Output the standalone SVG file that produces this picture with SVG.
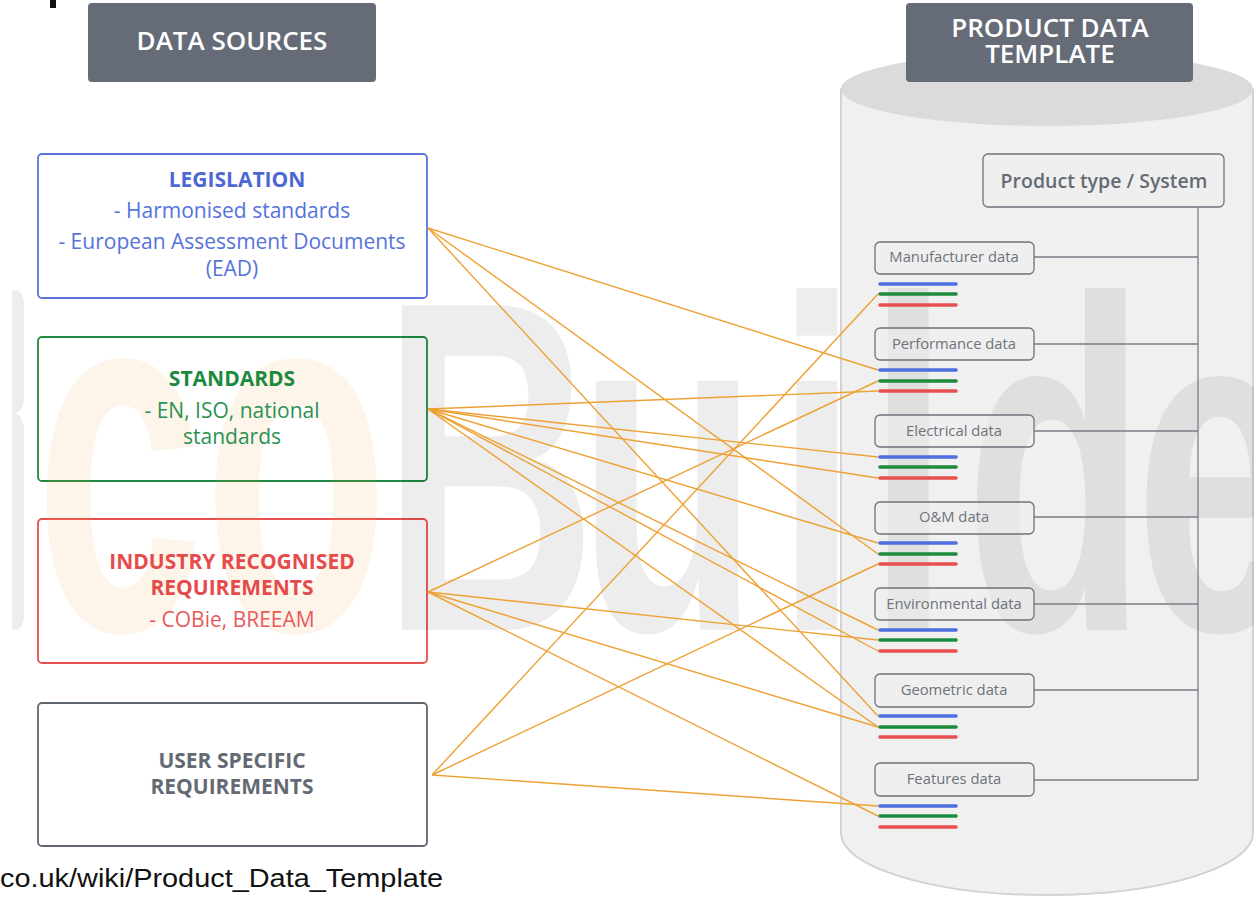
<svg xmlns="http://www.w3.org/2000/svg" width="1254" height="897" viewBox="0 0 1254 897">
<style>
.hdr{fill:#656c78}
.hdrt{font-family:"Open Sans","Noto Sans",sans-serif;font-weight:600;font-size:26px;fill:#ffffff;text-anchor:middle}
.src{fill:#ffffff;stroke-width:1.8}
.t{font-family:"Open Sans","Noto Sans",sans-serif;text-anchor:middle}
.b{font-weight:700;font-size:21px}
.r{font-size:21px}
.dbox{fill:#eeeeee;fill-opacity:0.55;stroke:#6e737b;stroke-width:1.3}
.dt{font-family:"Open Sans","Noto Sans",sans-serif;font-size:14.8px;fill:#6e737b;text-anchor:middle}
.bus{fill:none;stroke:#7a7f86;stroke-width:1.3}
.bar{stroke-width:3.6;stroke-linecap:round}
.bl{stroke:#4d6fe0}.gr{stroke:#1d8a3c}.rd{stroke:#e8504f}
.wm{fill:#000000;fill-opacity:0.07}
.wmo{fill:#f5a040;fill-opacity:0.11}
#connectors line{stroke:#eea133;stroke-width:1.4}
</style>
<rect x="0" y="0" width="1254" height="897" fill="#ffffff"/>
<rect x="50" y="0" width="6" height="8" fill="#111111"/>

<g id="cylinder">
<path d="M841,89 L841,833 A206,62 0 0 0 1253,833 L1253,89 Z" fill="#f0f0f0" stroke="#d2d2d2" stroke-width="2"/>
<ellipse cx="1047" cy="89" rx="206" ry="37" fill="#dbdbdb"/>
</g>

<g id="header-data-sources">
<rect class="hdr" x="88" y="3" width="288" height="79" rx="4"/>
<text class="hdrt" x="232" y="50">DATA SOURCES</text>
</g>
<g id="header-pdt">
<rect class="hdr" x="906" y="3" width="287" height="79" rx="4"/>
<text class="hdrt" x="1050" y="37">PRODUCT DATA</text>
<text class="hdrt" x="1050" y="63">TEMPLATE</text>
</g>

<g id="legislation-box"><rect class="src" x="38" y="154" width="389" height="144" rx="4" stroke="#5a74da"/></g>
<g id="standards-box"><rect class="src" x="38" y="337" width="389" height="144" rx="4" stroke="#1f8a40"/></g>
<g id="industry-box"><rect class="src" x="38" y="519" width="389" height="144" rx="4" stroke="#e8504f"/></g>
<g id="user-box"><rect class="src" x="38" y="703" width="389" height="143" rx="4" stroke="#60666f"/></g>

<g id="watermark">
<path class="wm" d="M12,290 H14 Q24,290 24,306 V398 Q24,410 16,413 Q24,417 24,430 V614 Q24,630 14,630 H12 Z"/>
<text class="wmo" transform="translate(35,630) scale(0.6,1)" font-family="Liberation Sans, sans-serif" font-weight="700" font-size="505">co</text>
<text class="wm" transform="translate(382,630) scale(0.63,1)" font-family="Liberation Sans, sans-serif" font-weight="700" font-size="472"><tspan x="0">B</tspan><tspan x="310">u</tspan><tspan x="625">i</tspan><tspan x="770">l</tspan><tspan x="925">d</tspan><tspan x="1195">e</tspan></text>
</g>

<g id="legislation-text" class="t" fill="#4d68d2">
<text class="b" x="237" y="187">LEGISLATION</text>
<text class="r" x="232" y="218" fill="#5673da">- Harmonised standards</text>
<text class="r" x="232" y="249" fill="#5673da">- European Assessment Documents</text>
<text class="r" x="232" y="276" fill="#5673da">(EAD)</text>
</g>
<g id="standards-text" class="t" fill="#1c8a3f">
<text class="b" x="232" y="386">STANDARDS</text>
<text class="r" x="232" y="418" fill="#2a9250">- EN, ISO, national</text>
<text class="r" x="232" y="444" fill="#2a9250">standards</text>
</g>
<g id="industry-text" class="t" fill="#e54b4b">
<text class="b" x="232" y="569">INDUSTRY RECOGNISED</text>
<text class="b" x="232" y="595">REQUIREMENTS</text>
<text class="r" x="232" y="627" fill="#e85a5a">- COBie, BREEAM</text>
</g>
<g id="user-text" class="t" fill="#646a73">
<text class="b" x="232" y="768">USER SPECIFIC</text>
<text class="b" x="232" y="794">REQUIREMENTS</text>
</g>

<g id="product-type">
<rect class="dbox" x="983" y="154" width="241" height="53" rx="5"/>
<text class="t" x="1104" y="188" font-size="19.5" font-weight="600" fill="#656b74">Product type / System</text>
</g>

<g id="bus">
<path class="bus" d="M1198,207 V780 M1034,257 H1198 M1034,344 H1198 M1034,431 H1198 M1034,517 H1198 M1034,604 H1198 M1034,690 H1198 M1034,780 H1198"/>
</g>

<g id="manufacturer-data">
<rect class="dbox" x="875" y="242" width="159" height="32" rx="5"/>
<text class="dt" x="954" y="262">Manufacturer data</text>
<line class="bar bl" x1="880" y1="284" x2="956" y2="284"/><line class="bar gr" x1="880" y1="294" x2="956" y2="294"/><line class="bar rd" x1="880" y1="305" x2="956" y2="305"/>
</g>
<g id="performance-data">
<rect class="dbox" x="875" y="328" width="159" height="32" rx="5"/>
<text class="dt" x="954" y="349">Performance data</text>
<line class="bar bl" x1="880" y1="370" x2="956" y2="370"/><line class="bar gr" x1="880" y1="381" x2="956" y2="381"/><line class="bar rd" x1="880" y1="391" x2="956" y2="391"/>
</g>
<g id="electrical-data">
<rect class="dbox" x="875" y="415" width="159" height="32" rx="5"/>
<text class="dt" x="954" y="436">Electrical data</text>
<line class="bar bl" x1="880" y1="457" x2="956" y2="457"/><line class="bar gr" x1="880" y1="467" x2="956" y2="467"/><line class="bar rd" x1="880" y1="478" x2="956" y2="478"/>
</g>
<g id="om-data">
<rect class="dbox" x="875" y="502" width="159" height="32" rx="5"/>
<text class="dt" x="954" y="522">O&amp;M data</text>
<line class="bar bl" x1="880" y1="543" x2="956" y2="543"/><line class="bar gr" x1="880" y1="554" x2="956" y2="554"/><line class="bar rd" x1="880" y1="564" x2="956" y2="564"/>
</g>
<g id="environmental-data">
<rect class="dbox" x="875" y="588" width="159" height="32" rx="5"/>
<text class="dt" x="954" y="609">Environmental data</text>
<line class="bar bl" x1="880" y1="630" x2="956" y2="630"/><line class="bar gr" x1="880" y1="640" x2="956" y2="640"/><line class="bar rd" x1="880" y1="651" x2="956" y2="651"/>
</g>
<g id="geometric-data">
<rect class="dbox" x="875" y="674" width="159" height="33" rx="5"/>
<text class="dt" x="954" y="695">Geometric data</text>
<line class="bar bl" x1="880" y1="716" x2="956" y2="716"/><line class="bar gr" x1="880" y1="727" x2="956" y2="727"/><line class="bar rd" x1="880" y1="737" x2="956" y2="737"/>
</g>
<g id="features-data">
<rect class="dbox" x="875" y="763" width="159" height="33" rx="5"/>
<text class="dt" x="954" y="784">Features data</text>
<line class="bar bl" x1="880" y1="806" x2="956" y2="806"/><line class="bar gr" x1="880" y1="816" x2="956" y2="816"/><line class="bar rd" x1="880" y1="827" x2="956" y2="827"/>
</g>

<g id="connectors">
<line x1="428" y1="228" x2="878" y2="370"/>
<line x1="428" y1="228" x2="878" y2="554"/>
<line x1="428" y1="228" x2="878" y2="716"/>
<line x1="428" y1="409" x2="878" y2="391"/>
<line x1="428" y1="409" x2="878" y2="457"/>
<line x1="428" y1="409" x2="878" y2="478"/>
<line x1="428" y1="409" x2="878" y2="543"/>
<line x1="428" y1="409" x2="878" y2="630"/>
<line x1="428" y1="409" x2="878" y2="651"/>
<line x1="428" y1="409" x2="878" y2="727"/>
<line x1="428" y1="592" x2="878" y2="381"/>
<line x1="428" y1="592" x2="878" y2="640"/>
<line x1="428" y1="592" x2="878" y2="727"/>
<line x1="428" y1="592" x2="878" y2="816"/>
<line x1="432" y1="775" x2="878" y2="294"/>
<line x1="432" y1="775" x2="878" y2="564"/>
<line x1="432" y1="775" x2="878" y2="806"/>
</g>

<text x="0" y="887" font-family="Liberation Sans, sans-serif" font-size="25" fill="#111111" textLength="443" lengthAdjust="spacingAndGlyphs">co.uk/wiki/Product_Data_Template</text>
</svg>
